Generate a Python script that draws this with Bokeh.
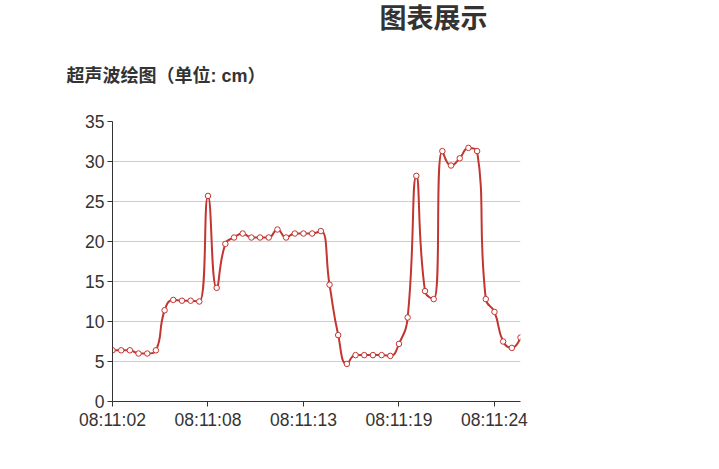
from bokeh.plotting import figure
from bokeh.layouts import column
from bokeh.models import Range1d, FixedTicker, ColumnDataSource
from bokeh.core.properties import value
from bokeh.embed import file_html
from bokeh.resources import INLINE

title_text = "图表展示"
subtitle_text = "超声波绘图（单位: cm）"
tick_positions = [0, 11, 22, 33, 44]
tick_labels = ["08:11:02", "08:11:08", "08:11:13", "08:11:19", "08:11:24"]
distance_cm = [6.4, 6.4, 6.4, 6.0, 6.0, 6.4, 11.4, 12.7, 12.6, 12.6, 12.5, 25.7,
               14.2, 19.7, 20.5, 21.0, 20.5, 20.5, 20.5, 21.5, 20.5, 21.0, 21.0, 21.0,
               21.3, 14.6, 8.3, 4.7, 5.8, 5.8, 5.8, 5.8, 5.7, 7.2, 10.5, 28.2,
               13.8, 12.8, 31.3, 29.5, 30.4, 31.7, 31.3, 12.8, 11.2, 7.5, 6.7, 8.0]
sample_index = list(range(len(distance_cm)))

RED = "#c23531"
W = 711
HEAD_H = 90
H = 461 - HEAD_H
LEFT, RIGHT, TOP, BOTTOM = 112, 520, 121 - HEAD_H, 401 - HEAD_H
YMAX = 35

# ---- header with the two titles ----
head = figure(width=W, height=HEAD_H, output_backend="svg", toolbar_location=None,
              x_range=Range1d(0, W), y_range=Range1d(HEAD_H, 0),
              x_axis_type=None, y_axis_type=None,
              min_border_left=0, min_border_right=0, min_border_top=0, min_border_bottom=0)
head.outline_line_color = None
head.grid.visible = False
head.text(x=[433], y=[16], text=[title_text], text_font=value("Noto Sans CJK SC"),
          text_font_size="27px", text_font_style="bold", text_color="#333333",
          text_align="center", text_baseline="middle", text_line_height=1.0)
head.text(x=[66], y=[75], text=[subtitle_text],
          text_font=value("Liberation Sans, Noto Sans CJK SC"),
          text_font_size="18px", text_font_style="bold", text_color="#333333",
          text_align="left", text_baseline="middle", text_line_height=1.0)

# ---- main chart ----
p = figure(width=W, height=H, output_backend="svg", toolbar_location=None,
           x_range=Range1d(0, len(distance_cm) - 1), y_range=Range1d(0, YMAX),
           min_border_left=LEFT, min_border_right=W - RIGHT,
           min_border_top=TOP, min_border_bottom=H - BOTTOM)
p.outline_line_color = None
p.background_fill_color = "white"
p.border_fill_color = "white"

# do not align the header's frame with the chart's frame
for fig in (head, p):
    if "frame_align" in fig.properties():
        fig.frame_align = False

# smooth curve (ECharts-style bezier smoothing, computed in pixel space)
sx = (RIGHT - LEFT) / (len(distance_cm) - 1)
sy = (BOTTOM - TOP) / YMAX
pts = [(i * sx, v * sy) for i, v in zip(sample_index, distance_cm)]
smooth = 0.5
segs = {k: [] for k in ["x0", "y0", "x1", "y1", "cx0", "cy0", "cx1", "cy1"]}
cp0 = pts[0]
n = len(pts)
for i in range(1, n):
    px, py = pts[i - 1]
    x, y = pts[i]
    if i == n - 1:
        cp1 = (x, y)
        ncp0 = (x, y)
    else:
        nx, ny = pts[i + 1]
        vx, vy = nx - px, ny - py
        l0 = ((x - px) ** 2 + (y - py) ** 2) ** 0.5
        l1 = ((nx - x) ** 2 + (ny - y) ** 2) ** 0.5
        r = l1 / (l0 + l1)
        ncx = x + vx * smooth * r
        ncy = y + vy * smooth * r
        ncx = max(min(ncx, max(nx, x)), min(nx, x))
        ncy = max(min(ncy, max(ny, y)), min(ny, y))
        vx, vy = ncx - x, ncy - y
        c1x = x - vx * l0 / l1
        c1y = y - vy * l0 / l1
        c1x = max(min(c1x, max(px, x)), min(px, x))
        c1y = max(min(c1y, max(py, y)), min(py, y))
        vx, vy = x - c1x, y - c1y
        ncp0 = (x + vx * l1 / l0, y + vy * l1 / l0)
        cp1 = (c1x, c1y)
    segs["x0"].append(px / sx); segs["y0"].append(py / sy)
    segs["x1"].append(x / sx); segs["y1"].append(y / sy)
    segs["cx0"].append(cp0[0] / sx); segs["cy0"].append(cp0[1] / sy)
    segs["cx1"].append(cp1[0] / sx); segs["cy1"].append(cp1[1] / sy)
    cp0 = ncp0

p.bezier(x0="x0", y0="y0", x1="x1", y1="y1", cx0="cx0", cy0="cy0", cx1="cx1", cy1="cy1",
         source=ColumnDataSource(segs), line_color=RED, line_width=2)
p.scatter(sample_index, distance_cm, size=5.5, marker="circle",
          fill_color="white", line_color=RED, line_width=1)

# axes
for ax in (p.xaxis[0], p.yaxis[0]):
    ax.axis_line_color = "#333333"
    ax.major_tick_line_color = "#333333"
    ax.major_tick_out = 5
    ax.major_tick_in = 0
    ax.minor_tick_line_color = None
    ax.major_label_text_font = "Liberation Sans"
    ax.major_label_text_font_size = "17.5px"
    ax.major_label_text_color = "#333333"
    ax.major_label_standoff = 3
p.xaxis.ticker = FixedTicker(ticks=tick_positions)
p.xaxis.major_label_overrides = {t: l for t, l in zip(tick_positions, tick_labels)}
p.yaxis.ticker = FixedTicker(ticks=list(range(0, YMAX + 1, 5)))
p.xgrid.grid_line_color = None
p.ygrid.grid_line_color = "#cccccc"
p.ygrid.grid_line_width = 1

layout = column(head, p, spacing=0)
open("out.html", "w").write(file_html(layout, INLINE))
